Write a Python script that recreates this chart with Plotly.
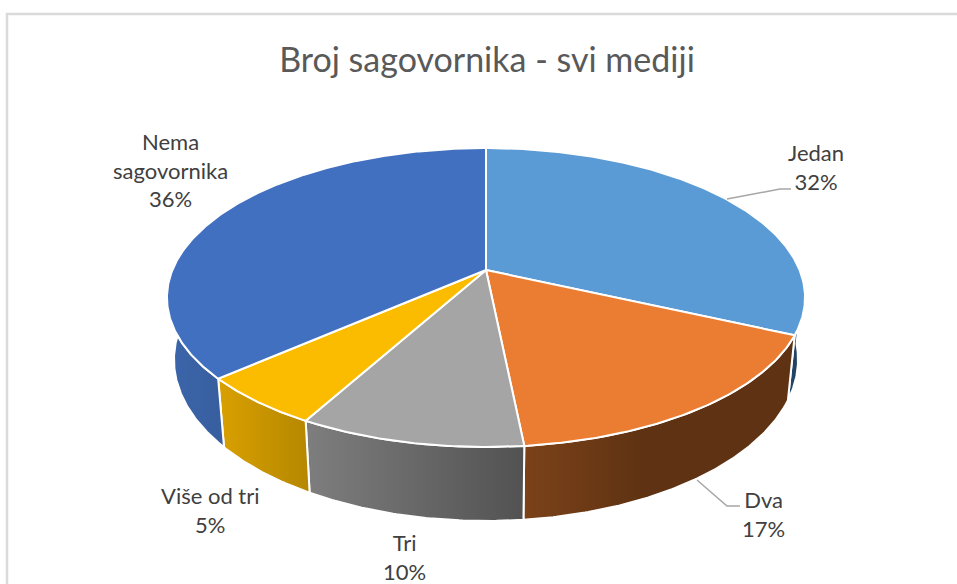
import numpy as np
import plotly.graph_objects as go

categories = ["Jedan", "Dva", "Tri", "Više od tri", "Nema sagovornika"]
values = [31.85, 16.55, 9.6, 5.49, 36.49]
top_colors = ["#5B9BD5", "#EB7D32", "#A5A5A5", "#FBBC00", "#4270C0"]
wall_stops = [
    [[0, "#24476B"], [1, "#1E3C5C"]],
    [[0, "#7C4219"], [0.45, "#5E3212"], [1, "#5E3212"]],
    [[0, "#7E7E7E"], [1, "#525252"]],
    [[0, "#D9A000"], [1, "#B58700"]],
    [[0, "#3C66AB"], [1, "#375E9E"]],
]

# projection of the disc onto the page (pixels)
CX, CY = 486.0, 270.0
C, A, K = 313.6, 144.4, 0.184
SCALE_X_B, SCALE_Y_B, DROP = 0.978, 1.079, 60.0


def top_xy(theta):
    u, v = np.sin(theta), np.cos(theta)
    d = 1 + K * v
    return C * u / d, A * v / d


def arc(t0, t1, bottom=False):
    t = np.radians(np.linspace(t0, t1, max(int(abs(t1 - t0)) * 2, 2)))
    x, y = top_xy(t)
    if bottom:
        x, y = x * SCALE_X_B, y * SCALE_Y_B - DROP
    return CX + x, CY - y


shares = np.array(values) / sum(values)
edges = np.concatenate([[0], np.cumsum(shares)]) * 360

fig = go.Figure()

# side walls, only the part facing the viewer
wall_spans = [
    (95, edges[1], 0),
    (edges[1], edges[2], 1),
    (edges[2], edges[3], 2),
    (edges[3], edges[4], 3),
    (edges[4], 285, 4),
]
for t0, t1, i in wall_spans:
    xa, ya = arc(t0, t1)
    xb, yb = arc(t1, t0, bottom=True)
    xs = np.concatenate([xa, xb, xa[:1]])
    ys = np.concatenate([ya, yb, ya[:1]])
    fig.add_trace(go.Scatter(
        x=xs, y=ys, mode="lines", fill="toself",
        fillgradient=dict(type="horizontal", colorscale=wall_stops[i]),
        line=dict(color="white", width=2), hoverinfo="skip", showlegend=False))

# top surface
for i, cat in enumerate(categories):
    xa, ya = arc(edges[i], edges[i + 1])
    xs = np.concatenate([[CX], xa, [CX]])
    ys = np.concatenate([[CY], ya, [CY]])
    fig.add_trace(go.Scatter(
        x=xs, y=ys, mode="lines", fill="toself", fillcolor=top_colors[i],
        line=dict(color="white", width=2), name=cat,
        hoverinfo="name", showlegend=False))

# leader lines
leaders = [
    ([727, 780, 791], [199, 189, 189]),
    ([697, 727, 740], [480, 506, 506]),
]
for lx, ly in leaders:
    fig.add_trace(go.Scatter(x=lx, y=ly, mode="lines",
                             line=dict(color="#A6A6A6", width=1.5),
                             hoverinfo="skip", showlegend=False))

# data labels
label_pos = [(816, 167), (763, 514), (404, 557), (210, 510), (170, 170)]
label_names = ["Jedan", "Dva", "Tri", "Više od tri", "Nema<br>sagovornika"]
for name, v, (lx, ly) in zip(label_names, shares, label_pos):
    fig.add_annotation(x=lx, y=ly, text=f"{name}<br>{v * 100:.0f}%", showarrow=False,
                       xanchor="center", yanchor="middle",
                       font=dict(family="Lato", size=22, color="#404040"))

fig.update_layout(
    width=957, height=584,
    margin=dict(l=0, r=0, t=0, b=0),
    paper_bgcolor="white", plot_bgcolor="white",
    title=dict(text="Broj sagovornika - svi mediji", x=487 / 957, y=1 - 60 / 584,
               xanchor="center", yanchor="middle", pad=dict(t=0, b=0, l=0, r=0),
               font=dict(family="Lato", size=34, color="#595959")),
    xaxis=dict(range=[0, 957], visible=False, fixedrange=True),
    yaxis=dict(range=[584, 0], visible=False, fixedrange=True),
    shapes=[dict(type="rect", xref="paper", yref="paper",
                 x0=7 / 957, x1=1.01, y0=-0.01, y1=1 - 14 / 584,
                 line=dict(color="#DADADA", width=2.5))],
    showlegend=False,
)
fig.write_html("out.html", config={"displayModeBar": False},
               post_script="document.body.style.margin='0';document.body.style.overflow='hidden';")
